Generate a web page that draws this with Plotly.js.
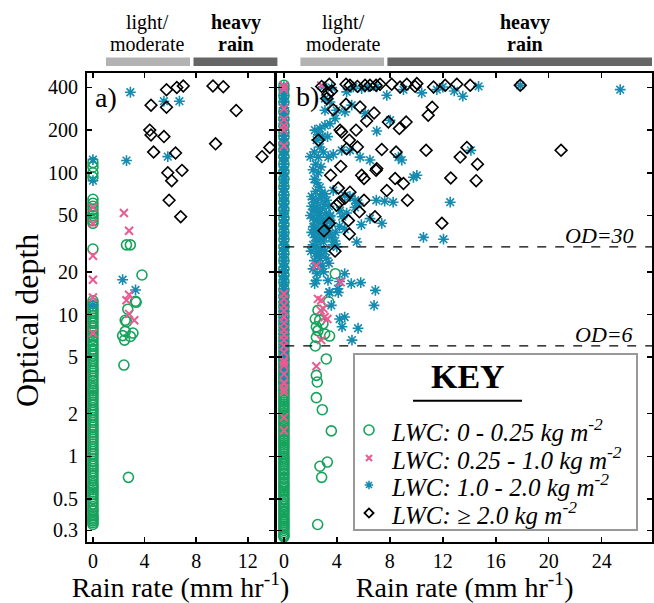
<!DOCTYPE html>
<html><head><meta charset="utf-8">
<script src="https://cdn.plot.ly/plotly-3.0.1.min.js"></script>
<style>html,body{margin:0;padding:0;background:#fff}#chart{width:654px;height:603px}</style>
</head><body><div id="chart"></div>
<script>
// ---------- DATA: panel a ----------
// rain rate 0 (column) optical depths
const aLowColumnY = [118,110,100,93,65,61,58,55,52,50,48,46,44,29,12.5,12.0,11.5,11.0,10.6,10.2,9.8,9.4,9.0,8.7,8.3,8.0,7.7,7.4,7.1,6.8,6.5,6.2,6.0,5.7,5.5,5.3,5.1,4.9,4.7,4.5,4.3,4.15,4.0,3.85,3.7,3.55,3.4,3.25,3.1,3.0,2.9,2.8,2.7,2.6,2.5,2.4,2.3,2.2,2.12,2.04,1.96,1.88,1.8,1.73,1.66,1.6,1.54,1.48,1.42,1.37,1.32,1.27,1.22,1.17,1.12,1.08,1.04,1.0,0.96,0.92,0.88,0.85,0.82,0.79,0.76,0.73,0.7,0.67,0.64,0.62,0.6,0.58,0.56,0.54,0.52,0.5,0.48,0.46,0.44,0.42,0.41,0.39,0.38,0.37,0.36,0.35,0.34,0.33];
const aLowX = [2.6,2.9,3.8,3.35,3.3,2.7,2.5,2.6,2.5,2.3,2.9,3.1,2.45,2.4,2.75];
const aLowY = [31,31,19,12.2,12.4,10.9,9.1,8.9,7.6,7.1,7.0,7.4,6.6,4.4,0.71];
const aMidColumnY = [57,44,26,17.6,13.2,7.4];
const aMidX = [2.4,2.8,2.8,2.6,2.8,3.2];
const aMidY = [52,39,13.8,12.6,10.1,9.1];
const aHighColumnY = [124,88,11.7];
const aHighX = [2.9,5.5,6.7,5.8,2.6,2.3,3.3];
const aHighY = [370,320,320,130,122,17.6,14.9];
const aVeryHighX = [5.7,6.5,7.0,9.3,10.1,4.5,5.7,11.1,4.4,4.5,5.5,9.5,4.7,6.4,13.1,13.7,5.8,6.9,6.1,5.9,6.8];
const aVeryHighY = [385,400,410,410,405,300,290,275,200,185,180,160,140,138,130,151,100,104,88,64,49];

// ---------- DATA: panel b ----------
const bLowColumnY = [0.27,0.275,0.28,0.29,0.30,0.31,0.32,0.33,0.34,0.35,0.36,0.37,0.385,0.40,0.41,0.425,0.44,0.455,0.47,0.49,0.50,0.52,0.54,0.56,0.58,0.60,0.62,0.64,0.66,0.69,0.71,0.74,0.76,0.79,0.82,0.85,0.88,0.91,0.94,0.97,1.0,1.04,1.08,1.12,1.16,1.2,1.24,1.29,1.33,1.38,1.43,1.48,1.53,1.59,1.64,1.7,1.76,1.82,1.89,1.95,2.02,2.1,2.17,2.25,2.33,2.41,2.5,2.6,2.7,2.8,2.9,3.0,3.1,3.25,3.35,3.5,3.6,3.75,3.9,4.05,4.2,4.35,4.5,4.7,4.85,5.0,5.3,5.6,6.0,6.4,6.8,7.3,7.8,8.4,9.0,9.7,10.5,11.3,12.2,13.5,15,17,19,21,24,27,30,34,38,43,48,55,62,70,80,90,102,115,130,145,160,180,193,215,240,270,314,350,390,415];
const bLowX = [3.88,3.38,2.57,2.37,2.70,2.45,2.95,2.57,3.08,3.45,2.45,2.37,3.2,2.45,2.52,2.45,2.90,3.58,3.28,2.72,2.85,2.55];
const bLowY = [19.4,12.3,10.7,9.3,9.1,8.2,8.6,7.7,7.3,7.05,6.9,6.0,4.86,3.72,3.34,2.59,2.13,1.51,0.91,0.85,0.71,0.33];
const bMidColumnY = [412,390,284,238,215,200,155,14.0,12.9,11.6,10.6,9.6,8.7,7.8,7.2,6.6,6.0,5.4,4.75,4.6,4.38,3.8,3.3,3.25,3.0,2.85,1.88,1.52];
const bMidX = [2.82,2.45,4.29,2.57,2.82,2.98,3.08,3.28,2.82,2.77,2.45];
const bMidY = [412,22.2,16.9,12.9,12.6,11.0,9.6,9.3,6.6,10.7,4.31];
const bHighColumnY = [3.3,3.6,4.0,4.4,4.8,5.1,5.5,5.8,6.2,6.5,6.9,7.3,7.7,8.1,8.6,9.0,9.5,10.0,10.6,11.1,11.7,12.3,13.0,13.7,14.4,15.2,16.0,16.8,17.7,18.6,19.6,20.6,21.7,22.8,24.0,25.3,26.6,28,29.5,31,32.6,34.3,36,38,40,42,44,46.5,49,51.5,54,57,60,63,66,70,73.5,77,81,85,90,94,99,104,110,115,121,128,134,141,148,156,164,173,182,191,201,212,223,234,246,259,272,287,302,317,334,351,369,388,405];
const bHighX = [2.98,3.61,4.74,5.24,5.87,6.38,7.01,7.77,9.03,10.41,11.55,12.0,12.86,13.51,14.7,17.85,25.4,
  3.10,3.48,4.61,6.13,5.12,3.10,3.98,2.34,2.72,3.10,3.48,3.86,2.47,2.72,2.98,2.60,3.35,3.73,4.36,4.99,5.75,6.50,7.01,8.02,8.90,8.65,10.04,9.78,14.12,
  2.72,2.85,3.23,3.73,4.61,4.99,5.37,5.62,4.24,3.48,2.47,2.72,3.23,2.22,3.10,2.34,2.47,2.72,2.98,3.61,3.86,4.74,5.37,6.98,7.61,8.25,7.39,6.50,5.50,5.85,10.54,12.05,12.56,
  2.2,2.5,2.8,3.1,3.4,2.3,2.6,2.9,3.2,3.5,2.2,2.5,2.8,3.0,3.6,2.3,2.6,2.9,3.3,2.4,2.7,3.0,3.4,2.2,2.5,2.8,3.1,2.4,2.7,3.2,2.3,2.6,2.9,3.4,2.2,3.0,2.5,3.7,4.0,3.9,4.2,4.4,4.6,3.1,2.4,2.1,2.1,2.0,2.1,2.05,2.3,2.5,2.2,2.4,2.6,2.0,2.3,2.9,2.6,3.3,2.8,
  4.59,4.21,5.09,5.80,6.91,6.81,2.45,2.32,3.33,4.08,3.45,3.58,4.21,4.59,4.39,5.60,5.14,4.11,3.43];
const bHighY = [404,399,372,404,393,404,404,352,386,366,386,403,378,347,407,414,386,
  334,316,269,262,300,276,276,200,205,216,222,241,170,152,140,129,129,135,144,144,129,123,197,235,123,129,96,93,144,
  79,71,64,75,69,68,64,61,54,49,57,52,46,41.5,39,35,30,27,32.5,35,33,52,57,64,63,62,44,47.5,32.5,43,35,34,62,
  65,62,66,60,58,55,50,56,52,50,48,46,44,47,44,42,40,37,41,38,34,35,37,31,33,29,28,27,25,25,24,23,22,23,21,20,19.5,31,30,38,42,49,40,71,74,68,58,50,38,28,90,85,105,115,100,130,140,180,185,180,110,
  19.4,17.1,16.5,16.8,14.8,11.6,17.4,16.5,17.4,15.2,14.3,11.6,9.3,9.6,8.2,8.0,6.6,14.3,14.4];
const bVeryHighX = [2.85,3.43,4.69,4.99,5.55,6.13,6.5,6.96,7.26,8.14,8.77,9.28,9.91,10.04,11.3,12.18,13.06,14.07,17.85,
  3.33,3.6,3.23,3.73,4.69,5.75,6.81,6.25,7.89,8.72,9.23,11.2,10.9,
  4.24,4.36,5.45,4.94,5.55,4.74,2.6,7.39,8.47,10.74,13.31,13.82,14.62,14.52,20.93,
  4.29,3.53,5.87,6.96,7.01,6.05,8.4,9.03,12.6,
  4.11,4.99,7.77,4.19,3.98,4.6,6.05,5.7,6.88,9.33,3.43,3.03,4.87,4.94,11.93,3.86];
const bVeryHighY = [407,421,421,414,407,414,414,414,421,421,403,421,407,426,403,414,421,414,414,
  360,378,334,279,304,291,264,232,228,205,228,290,255,
  200,194,200,170,152,148,170,146,140,144,129,151,115,88,144,
  111,96,96,104,107,91,91,84,92,
  78,73,75,62,59,66,64,53,49,64,44,39,46,37,44,28];

const yTickVals = [0.3,0.5,1,2,5,10,20,50,100,200,400];
const yTickText = ['0.3','0.5','1','2','5','10','20','50','100','200','400'];
const xTicksA = [0,4,8,12];
const xTicksB = [0,4,8,12,16,20,24];
const legendNames = ['LWC: 0 - 0.25 kg m<sup>-2</sup>','LWC: 0.25 - 1.0 kg m<sup>-2</sup>','LWC: 1.0 - 2.0 kg m<sup>-2</sup>','LWC: \u2265 2.0 kg m<sup>-2</sup>'];
const odLines = [30, 6];

// ---------- STYLE ----------
const FONT = 'Liberation Serif, Times New Roman, serif';
const GREEN = '#16a35c', PINK = '#ec5a92', TEAL = '#148bb0', BLACK = '#000';
const styles = {
  low:  {symbol:'circle-open', size:10, color:GREEN, line:{color:GREEN, width:1.6}},
  mid:  {symbol:'x-thin-open', size:8, color:PINK, line:{color:PINK, width:2}},
  high: {symbol:'asterisk-open', size:9, color:TEAL, line:{color:TEAL, width:1.6}},
  vh:   {symbol:'diamond-open', size:9, color:BLACK, line:{color:BLACK, width:1.6}}
};
const zeros = a => a.map(() => 0);
function tr(colY, xs, ys, st, xa, ya) {
  return {type:'scatter', mode:'markers', x: zeros(colY).concat(xs), y: colY.concat(ys),
    marker: st, xaxis: xa, yaxis: ya, hoverinfo:'skip', showlegend:false, cliponaxis:true};
}
const data = [
  tr(aLowColumnY, aLowX, aLowY, styles.low, 'x', 'y'),
  tr(aHighColumnY, aHighX, aHighY, styles.high, 'x', 'y'),
  tr(aMidColumnY, aMidX, aMidY, styles.mid, 'x', 'y'),
  tr([], aVeryHighX, aVeryHighY, styles.vh, 'x', 'y'),
  tr(bLowColumnY, bLowX, bLowY, styles.low, 'x2', 'y2'),
  tr(bHighColumnY, bHighX, bHighY, styles.high, 'x2', 'y2'),
  tr(bMidColumnY, bMidX, bMidY, styles.mid, 'x2', 'y2'),
  tr([], bVeryHighX, bVeryHighY, styles.vh, 'x2', 'y2')
];
// legend key symbols (overlay axis in page pixels)
const keyRows = [430, 458, 485, 513];
const keyStyles = [
  {symbol:'circle-open', size:10, color:GREEN, line:{color:GREEN, width:1.6}},
  {symbol:'x-thin-open', size:6, color:PINK, line:{color:PINK, width:2}},
  {symbol:'asterisk-open', size:7, color:TEAL, line:{color:TEAL, width:1.6}},
  {symbol:'diamond-open', size:7, color:BLACK, line:{color:BLACK, width:1.8}}
];
keyStyles.forEach((st, i) => data.push({type:'scatter', mode:'markers', x:[369], y:[keyRows[i]],
  marker: st, xaxis:'x3', yaxis:'y3', hoverinfo:'skip', showlegend:false, cliponaxis:false}));

const axBase = {showline:true, linewidth:2, linecolor:'#000', mirror:'allticks', ticks:'inside',
  ticklen:5, tickwidth:1.5, tickcolor:'#000', showgrid:false, zeroline:false,
  tickfont:{family:FONT, size:20, color:'#000'}};
const xTitle = {text:'Rain rate (mm hr<sup>-1</sup>)', font:{family:FONT, size:28, color:'#000'}, standoff:2};
const layout = {
  width:654, height:603, margin:{l:87, r:2, t:73, b:61},
  paper_bgcolor:'#fff', plot_bgcolor:'rgba(0,0,0,0)', showlegend:false, hovermode:false,
  font:{family:FONT, color:'#000'},
  xaxis: Object.assign({}, axBase, {domain:[0,0.331], range:[-0.46,14.03], tickmode:'array', tickvals:xTicksA, anchor:'y', title:xTitle}),
  xaxis2: Object.assign({}, axBase, {domain:[0.3368,1], range:[-0.5,27.8], tickmode:'array', tickvals:xTicksB, anchor:'y2', title:xTitle}),
  yaxis: Object.assign({}, axBase, {type:'log', range:[-0.605,2.704], tickmode:'array', tickvals:yTickVals, ticktext:yTickText, anchor:'x', ticklabelstandoff:3}),
  yaxis2: Object.assign({}, axBase, {type:'log', range:[-0.605,2.704], tickmode:'array', tickvals:yTickVals, showticklabels:false, anchor:'x2'}),
  xaxis3: {domain:[0,1], range:[87,652], visible:false, anchor:'y3', fixedrange:true},
  yaxis3: {domain:[0,1], range:[542,73], visible:false, anchor:'x3', fixedrange:true},
  shapes: [
    {type:'rect', xref:'paper', yref:'paper', x0:0.0336, x1:0.1823, y0:1.0149, y1:1.033, fillcolor:'#b3b3b3', line:{width:0}},
    {type:'rect', xref:'paper', yref:'paper', x0:0.1885, x1:0.337, y0:1.0149, y1:1.033, fillcolor:'#666666', line:{width:0}},
    {type:'rect', xref:'paper', yref:'paper', x0:0.3777, x1:0.5257, y0:1.0149, y1:1.033, fillcolor:'#b3b3b3', line:{width:0}},
    {type:'rect', xref:'paper', yref:'paper', x0:0.5317, x1:1.0, y0:1.0149, y1:1.033, fillcolor:'#666666', line:{width:0}},
    ...odLines.map(v => ({type:'line', xref:'x2', yref:'y2', x0:0.1, x1:27.8, y0:v, y1:v, line:{color:'#000', width:1.3, dash:'dash'}})),
    {type:'rect', xref:'x3', yref:'y3', x0:354, x1:637, y0:354, y1:530, line:{color:'#999', width:2}, fillcolor:'rgba(255,255,255,0)'},
    {type:'line', xref:'x3', yref:'y3', x0:413, x1:522, y0:400.7, y1:400.7, line:{color:'#000', width:2}}
  ],
  annotations: []
};
const ann = (text, x, y, size, opts) => Object.assign({text, x, y, xref:'x3', yref:'y3', showarrow:false,
  xanchor:'center', yanchor:'middle', font:{family:FONT, size, color:'#000'}}, opts || {});
// labels outside the plot area (paper coordinates: page px -> paper)
const px2x = px => (px - 87) / 565, py2y = py => (542 - py) / 469;
const hdr = (text, px, py, size, opts) => ann(text, px2x(px), py2y(py), size || 20, Object.assign({xref:'paper', yref:'paper'}, opts || {}));
layout.annotations.push(
  hdr('light/', 147, 22), hdr('moderate', 147, 44),
  hdr('<b>heavy</b>', 236, 22), hdr('<b>rain</b>', 236, 44),
  hdr('light/', 343, 22), hdr('moderate', 343, 44),
  hdr('<b>heavy</b>', 525, 22), hdr('<b>rain</b>', 525, 44),
  hdr('Optical depth', 27, 321, 32, {textangle:-90}),
  ann('a)', 106, 97, 28), ann('b)', 307, 96, 28),
  ann('<i>OD=' + odLines[0] + '</i>', 636, 235.7, 22, {xanchor:'right'}),
  ann('<i>OD=' + odLines[1] + '</i>', 635, 334, 22, {xanchor:'right'}),
  ann('<b>KEY</b>', 467.5, 376.7, 34)
);
legendNames.forEach((t, i) => layout.annotations.push(ann('<i>' + t + '</i>', 389, keyRows[i], 25, {xanchor:'left'})));

Plotly.newPlot('chart', data, layout, {staticPlot:true, displayModeBar:false});
</script></body></html>
